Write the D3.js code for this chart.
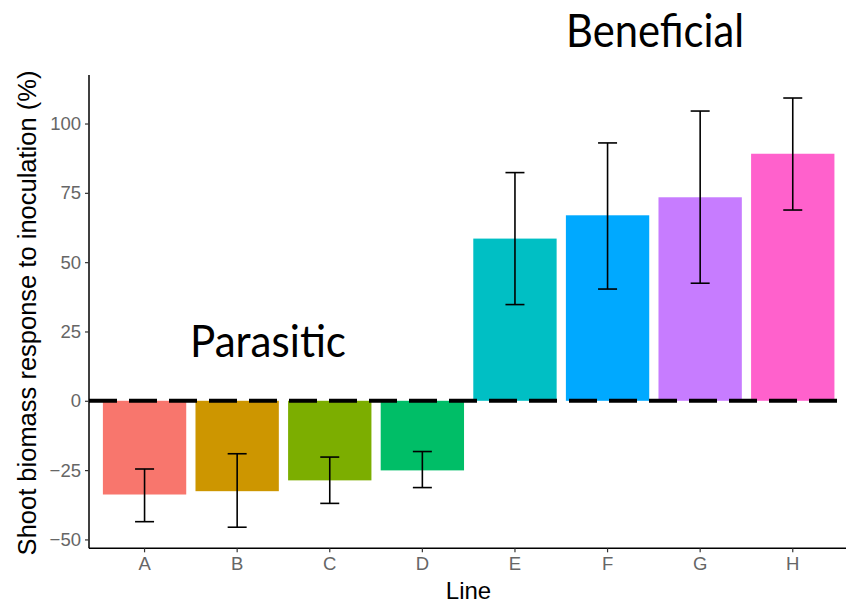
<!DOCTYPE html>
<html>
<head>
<meta charset="utf-8">
<script src="https://cdn.jsdelivr.net/npm/d3@7"></script>
<style>
  body { margin: 0; background: #fff; }
  svg { display: block; }
</style>
</head>
<body>
<div id="chart"></div>
<script>
// values
const lines = ['A', 'B', 'C', 'D', 'E', 'F', 'G', 'H'];
const response = [-33.8, -32.6, -28.7, -25.1, 58.5, 66.9, 73.4, 89.1];
const errLow = [-43.6, -45.6, -37.0, -31.3, 34.7, 40.3, 42.4, 68.8];
const errHigh = [-24.6, -19.1, -20.3, -18.3, 82.3, 93.0, 104.5, 109.2];
const barColors = ['#F8766D', '#CD9600', '#7CAE00', '#00BE67', '#00BFC4', '#00A9FF', '#C77CFF', '#FF61CC'];
const yTicks = [-50, -25, 0, 25, 50, 75, 100];

let width = 846, height = 605;
let mLeft = 89, mTop = 75, mBottom = 548.3;
let step = 92.6;
let mRight = mLeft + 8.2 * step;

let svg = d3.select('#chart').append('svg').attr('width', width).attr('height', height);

let x = d3.scaleBand().domain(lines)
    .range([mLeft + 0.1 * step, mRight - 0.1 * step])
    .paddingInner(0.1).paddingOuter(0.05);
let y = d3.scaleLinear().domain([-53.2, 117.5]).range([mBottom, mTop]);

let data = lines.map((d, i) => ({line: d, value: response[i], lo: errLow[i], hi: errHigh[i], color: barColors[i]}));

// bars
svg.selectAll('rect.bar').data(data).enter().append('rect')
    .attr('class', 'bar')
    .attr('x', d => x(d.line))
    .attr('width', x.bandwidth())
    .attr('y', d => y(Math.max(0, d.value)))
    .attr('height', d => Math.abs(y(d.value) - y(0)))
    .attr('fill', d => d.color);

// error bars
let cap = 9.5;
let eb = svg.selectAll('g.err').data(data).enter().append('g')
    .attr('class', 'err')
    .attr('transform', d => 'translate(' + (x(d.line) + x.bandwidth() / 2) + ',0)')
    .attr('stroke', '#000').attr('stroke-width', 1.6).attr('fill', 'none');
eb.append('line').attr('x1', 0).attr('x2', 0).attr('y1', d => y(d.lo)).attr('y2', d => y(d.hi));
eb.append('line').attr('x1', -cap).attr('x2', cap).attr('y1', d => y(d.lo)).attr('y2', d => y(d.lo));
eb.append('line').attr('x1', -cap).attr('x2', cap).attr('y1', d => y(d.hi)).attr('y2', d => y(d.hi));

// zero dashed line
svg.append('line')
    .attr('x1', mLeft).attr('x2', width)
    .attr('y1', y(0)).attr('y2', y(0))
    .attr('stroke', '#000').attr('stroke-width', 4)
    .attr('stroke-dasharray', '28,12');

// axes
let yAxis = svg.append('g')
    .attr('transform', 'translate(' + mLeft + ',0)')
    .call(d3.axisLeft(y).tickValues(yTicks).tickSize(4).tickPadding(4));
let xAxis = svg.append('g')
    .attr('transform', 'translate(0,' + mBottom + ')')
    .call(d3.axisBottom(x).tickSize(4).tickPadding(5));

[yAxis, xAxis].forEach(g => {
    g.select('.domain').attr('stroke', '#000').attr('stroke-width', 1.5);
    g.selectAll('.tick line').attr('stroke', '#333').attr('stroke-width', 1.2);
    g.selectAll('.tick text')
        .attr('fill', '#666')
        .style('font-family', 'Liberation Sans, Arial, sans-serif')
        .style('font-size', '18.5px');
});
yAxis.select('.domain').attr('d', 'M0,' + mTop + 'V' + mBottom);
xAxis.select('.domain').attr('d', 'M' + mLeft + ',0H' + mRight);

// axis titles
svg.append('text')
    .attr('transform', 'translate(36,313) rotate(-90)')
    .attr('text-anchor', 'middle')
    .style('font-family', 'Liberation Sans, Arial, sans-serif')
    .style('font-size', '25.5px')
    .text('Shoot biomass response to inoculation (%)');
svg.append('text')
    .attr('x', 468.5).attr('y', 599)
    .attr('text-anchor', 'middle')
    .style('font-family', 'Liberation Sans, Arial, sans-serif')
    .style('font-size', '24px')
    .text('Line');

// annotations
svg.append('text')
    .attr('x', 190).attr('y', 357)
    .attr('textLength', 156).attr('lengthAdjust', 'spacingAndGlyphs')
    .style('font-family', 'Lato, sans-serif')
    .style('font-size', '45px')
    .text('Parasitic');
svg.append('text')
    .attr('x', 566).attr('y', 47)
    .attr('textLength', 178).attr('lengthAdjust', 'spacingAndGlyphs')
    .style('font-family', 'Lato, sans-serif')
    .style('font-size', '46px')
    .text('Beneficial');
</script>
</body>
</html>
